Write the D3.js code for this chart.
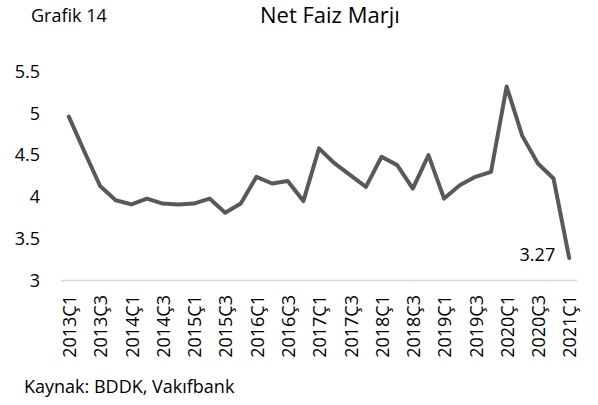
<!DOCTYPE html>
<html>
<head>
<meta charset="utf-8">
<script src="https://cdn.jsdelivr.net/npm/d3@7"></script>
<style>
  html, body { margin: 0; padding: 0; background: #fff; }
  svg { display: block; font-family: "Open Sans", sans-serif; }
</style>
</head>
<body>
<svg id="chart" width="598" height="405"></svg>
<script>
const categories = [
  "2013Ç1","2013Ç2","2013Ç3","2013Ç4",
  "2014Ç1","2014Ç2","2014Ç3","2014Ç4",
  "2015Ç1","2015Ç2","2015Ç3","2015Ç4",
  "2016Ç1","2016Ç2","2016Ç3","2016Ç4",
  "2017Ç1","2017Ç2","2017Ç3","2017Ç4",
  "2018Ç1","2018Ç2","2018Ç3","2018Ç4",
  "2019Ç1","2019Ç2","2019Ç3","2019Ç4",
  "2020Ç1","2020Ç2","2020Ç3","2020Ç4",
  "2021Ç1"
];
const netFaizMarji = [
  4.96, 4.54, 4.13, 3.96,
  3.91, 3.98, 3.92, 3.91,
  3.92, 3.98, 3.81, 3.92,
  4.24, 4.16, 4.19, 3.95,
  4.58, 4.40, 4.26, 4.12,
  4.48, 4.38, 4.10, 4.50,
  3.98, 4.14, 4.24, 4.30,
  5.32, 4.73, 4.40, 4.22,
  3.27
];
const yTicks = [3, 3.5, 4, 4.5, 5, 5.5];
const xTickLabels = categories.filter((d, i) => i % 2 === 0);
const title = "Net Faiz Marjı";
const chartNo = "Grafik 14";
const source = "Kaynak: BDDK, Vakıfbank";
const lastLabel = "3.27";

const svg = d3.select("#chart");

const x = d3.scaleBand().domain(categories).range([61, 577]).padding(0);
const y = d3.scaleLinear().domain([3, 5.5]).range([280.5, 71.5]);
const cx = d => x(d) + x.bandwidth() / 2;

// Titles
svg.append("text").attr("x", 31).attr("y", 21.5)
  .attr("font-size", 18).attr("fill", "#000").text(chartNo);
svg.append("text").attr("x", 260).attr("y", 23)
  .attr("font-size", 22).attr("fill", "#000").text(title);

// Y axis labels
svg.append("g").selectAll("text").data(yTicks).join("text")
  .attr("x", 40).attr("y", d => y(d))
  .attr("dy", "0.35em")
  .attr("text-anchor", "end")
  .attr("font-size", 18).attr("fill", "#000")
  .text(d => d);

// X axis line
svg.append("line")
  .attr("x1", x.range()[0]).attr("x2", x.range()[1])
  .attr("y1", y(3)).attr("y2", y(3))
  .attr("stroke", "#d9d9d9").attr("stroke-width", 1.5);

// X labels
svg.append("g").selectAll("text").data(xTickLabels).join("text")
  .attr("transform", d => `translate(${cx(d) + 1},295) rotate(-90)`)
  .attr("dy", "0.35em")
  .attr("text-anchor", "end")
  .attr("font-size", 18).attr("fill", "#000")
  .text(d => d);

// Line
const line = d3.line()
  .x((d, i) => cx(categories[i]))
  .y(d => y(d));
svg.append("path")
  .datum(netFaizMarji)
  .attr("d", line)
  .attr("fill", "none")
  .attr("stroke", "#595959")
  .attr("stroke-width", 4)
  .attr("stroke-linejoin", "round")
  .attr("stroke-linecap", "round");

// Last value label
const li = netFaizMarji.length - 1;
svg.append("text")
  .attr("x", cx(categories[li]) - 14)
  .attr("y", y(netFaizMarji[li]) + 3)
  .attr("text-anchor", "end")
  .attr("font-size", 18).attr("fill", "#000")
  .text(lastLabel);

// Source
svg.append("text").attr("x", 24).attr("y", 393)
  .attr("font-size", 18).attr("fill", "#000").text(source);
</script>
</body>
</html>
